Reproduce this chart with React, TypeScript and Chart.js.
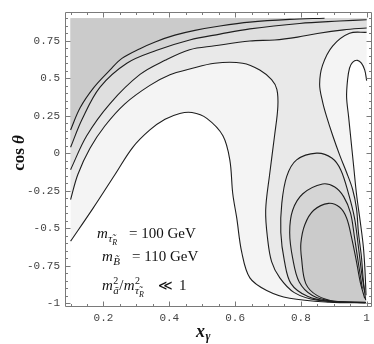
import React, { useEffect, useRef } from 'react';
import { Chart, registerables } from 'chart.js';

Chart.register(...registerables);

type Pt = [number, number];

// ---- axes ----
const xTickValues = [0.2, 0.4, 0.6, 0.8, 1];
const yTickValues = [-1, -0.75, -0.5, -0.25, 0, 0.25, 0.5, 0.75];
const xAxisRange: Pt = [0.083, 1.015];
const yAxisRange: Pt = [-1.026, 0.944];
const domainX: Pt = [0.1, 1];
const domainY: Pt = [-1, 0.9];

// ---- contour lines (x_gamma, cos theta) ----
const contourA: Pt[] = [[0.1,0.155],[0.129,0.303],[0.171,0.439],[0.22,0.555],[0.256,0.632],[0.311,0.697],[0.357,0.742],[0.417,0.787],[0.478,0.819],[0.554,0.848],[0.645,0.874],[0.766,0.892],[0.872,0.9]];
const contourB: Pt[] = [[0.1,0.039],[0.135,0.226],[0.189,0.439],[0.271,0.6],[0.362,0.686],[0.462,0.755],[0.554,0.794],[0.645,0.829],[0.796,0.865],[0.918,0.881],[1,0.89]];
const contourC: Pt[] = [[0.1,-0.11],[0.149,0.116],[0.22,0.331],[0.311,0.525],[0.387,0.619],[0.462,0.69],[0.538,0.716],[0.645,0.748],[0.72,0.755],[0.79,0.774],[0.85,0.798],[0.93,0.822],[1,0.835]];
const contourD: Pt[] = [[0.1,-0.31],[0.122,-0.142],[0.159,0.032],[0.204,0.181],[0.265,0.329],[0.341,0.452],[0.402,0.523],[0.462,0.561],[0.538,0.6],[0.623,0.6],[0.675,0.555],[0.711,0.49],[0.727,0.426],[0.73,0.31],[0.72,0.116],[0.705,-0.142],[0.693,-0.381],[0.699,-0.574],[0.711,-0.723],[0.736,-0.832],[0.78,-0.93],[0.85,-0.98],[0.997,-0.995]];
const contourE: Pt[] = [[0.1,-0.587],[0.168,-0.368],[0.235,-0.142],[0.289,0.039],[0.341,0.155],[0.387,0.226],[0.432,0.265],[0.469,0.271],[0.514,0.232],[0.563,0.116],[0.584,-0.045],[0.593,-0.271],[0.605,-0.432],[0.62,-0.658],[0.645,-0.832],[0.696,-0.916],[0.766,-0.968],[0.887,-0.994],[0.997,-0.998]];
const contourF: Pt[] = [[1,0.806],[0.948,0.8],[0.897,0.716],[0.866,0.587],[0.857,0.458],[0.866,0.342],[0.878,0.245],[0.897,0.116],[0.918,-0.013],[0.939,-0.129],[0.957,-0.239],[0.969,-0.368],[0.975,-0.529],[0.984,-0.69],[0.99,-0.852],[0.997,-0.981]];
const contourG: Pt[] = [[1,0.484],[0.994,0.555],[0.984,0.6],[0.972,0.619],[0.957,0.606],[0.948,0.568],[0.942,0.49],[0.939,0.374],[0.945,0.245],[0.951,0.116],[0.96,-0.077],[0.969,-0.271],[0.981,-0.465],[0.99,-0.626],[0.995,-0.787],[0.998,-0.948]];
const arch1: Pt[] = [[0.997,-0.997],[0.89,-0.99],[0.82,-0.955],[0.77,-0.87],[0.75,-0.72],[0.739,-0.529],[0.742,-0.335],[0.757,-0.155],[0.787,-0.045],[0.848,0],[0.894,-0.032],[0.921,-0.11],[0.945,-0.271],[0.963,-0.432],[0.975,-0.626],[0.984,-0.787],[0.994,-0.929]];
const arch2: Pt[] = [[0.997,-0.997],[0.9,-0.99],[0.835,-0.95],[0.795,-0.86],[0.775,-0.7],[0.766,-0.529],[0.775,-0.381],[0.806,-0.271],[0.866,-0.206],[0.903,-0.226],[0.93,-0.29],[0.951,-0.4],[0.963,-0.561],[0.975,-0.735],[0.987,-0.903]];
const arch3: Pt[] = [[0.997,-0.997],[0.91,-0.99],[0.85,-0.95],[0.815,-0.87],[0.802,-0.7],[0.8,-0.6],[0.812,-0.477],[0.839,-0.381],[0.884,-0.335],[0.918,-0.361],[0.939,-0.432],[0.954,-0.561],[0.969,-0.723],[0.981,-0.865],[0.994,-0.968]];

// gray levels, darkest to white
const shades = ['#cbcbcb', '#d5d5d5', '#dfdfdf', '#e9e9e9', '#f4f4f4', '#ffffff'];

const TENSION = 0.35;
const SERIF = '"Liberation Serif", "DejaVu Serif", serif';

const toPts = (p: Pt[]) => p.map(([x, y]) => ({ x, y }));
const dup = (c: Pt[]): Pt[] => [c[0], ...c, c[c.length - 1]];
const corner = (p: Pt): Pt[] => [p, p];

// closed polygon: start at min-x vertex, end with a straight degenerate run to max-x
function shape(p: Pt[]) {
  let mi = 0;
  p.forEach((q, i) => { if (q[0] < p[mi][0]) mi = i; });
  const r = p.slice(mi).concat(p.slice(0, mi));
  const maxX = Math.max(...p.map((q) => q[0]));
  const q: Pt = [maxX, r[0][1]];
  r.push(r[0], r[0], q, q);
  return toPts(r);
}

const fillDs = (p: Pt[], color: string, order: number) => ({
  data: shape(p), fill: 'shape', backgroundColor: color, borderColor: 'rgba(0,0,0,0)',
  borderWidth: 0, pointRadius: 0, pointHoverRadius: 0, order, tension: TENSION,
});
const lineDs = (p: Pt[]) => ({
  data: toPts(p), fill: false, borderColor: '#1e1e1e', borderWidth: 1.1,
  pointRadius: 0, pointHoverRadius: 0, order: 10, tension: TENSION,
});

function put(ctx: CanvasRenderingContext2D, t: string, x: number, y: number, size: number, style = '') {
  ctx.font = `${style} ${size}px ${SERIF}`;
  ctx.fillText(t, x, y);
  return x + ctx.measureText(t).width;
}

const decor = {
  id: 'decor',
  afterDraw(chart: any) {
    const { ctx, chartArea: a } = chart;
    const xs = chart.scales.x, ys = chart.scales.y;
    ctx.save();
    ctx.strokeStyle = '#7a7a7a';
    ctx.lineWidth = 1;
    const L = Math.round(a.left) + 0.5, R = Math.round(a.right) - 0.5;
    const T = Math.round(a.top) + 0.5, B = Math.round(a.bottom) - 0.5;
    ctx.beginPath();
    ctx.rect(L, T, R - L, B - T);
    for (let k = 2; k <= 20; k++) {
      const v = k * 0.05;
      const major = xTickValues.some((t) => Math.abs(t - v) < 1e-6);
      const len = major ? 5 : 2.5;
      const px = Math.round(xs.getPixelForValue(v)) + 0.5;
      ctx.moveTo(px, B); ctx.lineTo(px, B - len);
      ctx.moveTo(px, T); ctx.lineTo(px, T + len);
    }
    for (let k = -20; k <= 18; k++) {
      const v = k * 0.05;
      const major = yTickValues.some((t) => Math.abs(t - v) < 1e-6);
      const len = major ? 5 : 2.5;
      const py = Math.round(ys.getPixelForValue(v)) + 0.5;
      ctx.moveTo(L, py); ctx.lineTo(L + len, py);
      ctx.moveTo(R, py); ctx.lineTo(R - len, py);
    }
    ctx.stroke();

    ctx.fillStyle = '#111';
    ctx.textAlign = 'left';
    ctx.textBaseline = 'alphabetic';

    // y title
    ctx.save();
    ctx.translate(24, 153);
    ctx.rotate(-Math.PI / 2);
    ctx.font = `bold 17px ${SERIF}`;
    const w1 = ctx.measureText('cos ').width;
    ctx.font = `italic bold 17px ${SERIF}`;
    const w2 = ctx.measureText('θ').width;
    let sx = -(w1 + w2) / 2;
    sx = put(ctx, 'cos ', sx, 0, 17, 'bold');
    put(ctx, 'θ', sx, 0, 17, 'italic bold');
    ctx.restore();

    // x title
    let x = put(ctx, 'x', 196, 337, 18, 'italic bold');
    put(ctx, 'γ', x + 0.5, 339.5, 12, 'italic bold');

    // annotation row 1
    let b = 238;
    x = put(ctx, 'm', 97, b, 15, 'italic');
    x = put(ctx, 'τ\u0303', x + 0.3, b + 4, 11, 'italic');
    put(ctx, 'R', x + 0.2, b + 6.5, 8, 'italic');
    put(ctx, '= 100 GeV', 129, b, 15);

    // row 2
    b = 261;
    x = put(ctx, 'm', 102, b, 15, 'italic');
    put(ctx, 'B\u0303', x + 0.3, b + 4, 11, 'italic');
    put(ctx, '= 110 GeV', 132, b, 15);

    // row 3
    b = 290;
    x = put(ctx, 'm', 102, b, 15, 'italic');
    const s1 = put(ctx, '2', x + 0.3, b - 6.5, 10);
    const s2 = put(ctx, 'a\u0303', x + 0.3, b + 4, 11, 'italic');
    x = Math.max(s1, s2);
    x = put(ctx, '/', x + 0.5, b, 15);
    x = put(ctx, 'm', x + 0.5, b, 15, 'italic');
    put(ctx, '2', x + 0.3, b - 6.5, 10);
    const s3 = put(ctx, 'τ\u0303', x + 0.3, b + 4, 11, 'italic');
    put(ctx, 'R', s3 + 0.2, b + 6.5, 8, 'italic');
    put(ctx, '≪', 158, b, 14);
    put(ctx, '1', 179, b, 15);

    ctx.restore();
  },
};

export default function App() {
  const ref = useRef<HTMLCanvasElement>(null);
  useEffect(() => {
    const BL: Pt = [domainX[0], domainY[0]];
    const TL: Pt = [domainX[0], domainY[1]];
    const TR: Pt = [domainX[1], domainY[1]];
    const BR: Pt = [domainX[1], domainY[0]];
    const rect: Pt[] = [...corner(BL), ...corner(TL), ...corner(TR), ...corner(BR)];
    const whiteLow: Pt[] = [...corner(BL), ...dup(contourE), ...corner(BR)];
    const whiteRight: Pt[] = [...dup(contourG), ...corner([domainX[1], -0.95])];
    const band3: Pt[] = [...corner(TL), ...corner(TR), ...dup(contourF), ...dup(contourD.slice().reverse())];
    const band2: Pt[] = [...dup(contourC), ...corner(TR), ...corner(TL)];
    const band1: Pt[] = [...dup(contourB), ...corner(TR), ...corner(TL)];
    const band0: Pt[] = [...dup(contourA), ...corner(TL)];

    const datasets: any[] = [
      fillDs(rect, shades[4], 100),
      fillDs(whiteLow, shades[5], 95),
      fillDs(whiteRight, shades[5], 95),
      fillDs(band3, shades[3], 90),
      fillDs(band2, shades[2], 80),
      fillDs(dup(arch1), shades[2], 80),
      fillDs(band1, shades[1], 70),
      fillDs(dup(arch2), shades[1], 70),
      fillDs(band0, shades[0], 60),
      fillDs(dup(arch3), shades[0], 60),
      ...[contourA, contourB, contourC, contourD, contourE, contourF, contourG, arch1, arch2, arch3].map(lineDs),
    ];

    const tickFont = { family: '"Liberation Mono", "DejaVu Sans Mono", monospace', size: 11 };
    const chart = new Chart(ref.current as HTMLCanvasElement, {
      type: 'line',
      data: { datasets },
      options: {
        responsive: false,
        animation: false,
        devicePixelRatio: 1,
        events: [],
        layout: { padding: { left: 0, right: 2, top: 2, bottom: 0 } },
        plugins: { legend: { display: false }, tooltip: { enabled: false } },
        scales: {
          x: {
            type: 'linear', min: xAxisRange[0], max: xAxisRange[1],
            grid: { display: false, drawTicks: false }, border: { display: false },
            ticks: { font: tickFont, color: '#444', padding: 4, maxRotation: 0, autoSkip: false, callback: (v: any) => String(v) },
            afterBuildTicks: (s: any) => { s.ticks = xTickValues.map((value) => ({ value })); },
            afterFit: (s: any) => { s.height = 37; },
          },
          y: {
            type: 'linear', min: yAxisRange[0], max: yAxisRange[1],
            grid: { display: false, drawTicks: false }, border: { display: false },
            ticks: { font: tickFont, color: '#444', padding: 5, autoSkip: false, callback: (v: any) => String(v) },
            afterBuildTicks: (s: any) => { s.ticks = yTickValues.map((value) => ({ value })); },
            afterFit: (s: any) => { s.width = 65; },
          },
        },
      } as any,
      plugins: [decor],
    });
    return () => chart.destroy();
  }, []);
  return (
    <div style={{ position: 'fixed', left: 0, top: 0, width: 374, height: 344, background: '#fff' }}>
      <canvas ref={ref} width={374} height={344} style={{ display: 'block' }} />
    </div>
  );
}
